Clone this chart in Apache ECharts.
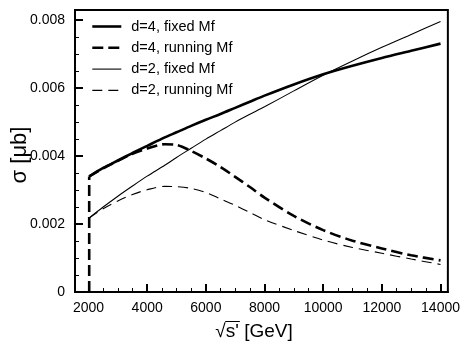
<!DOCTYPE html>
<html>
<head>
<meta charset="utf-8">
<script src="https://cdn.jsdelivr.net/npm/echarts@6/dist/echarts.min.js"></script>
<style>
html,body{margin:0;padding:0;background:#fff;}
#chart{width:463px;height:350px;}
</style>
</head>
<body>
<div id="chart"></div>
<script>
// ---- data (σ in μb, √s in GeV) ----
const seriesNames = ['d=4, fixed Mf', 'd=4, running Mf', 'd=2, fixed Mf', 'd=2, running Mf'];
const xTickLabels = [2000, 4000, 6000, 8000, 10000, 12000, 14000];
const yTickLabels = [0, 0.002, 0.004, 0.006, 0.008];

const sqrtS = [2024, 2500, 3000, 3500, 4000, 4600, 5000, 5500, 6000, 6500, 7000, 7500, 8000, 9000, 10000, 11000, 12000, 13000, 14000];
const d4Fixed = [0.00340, 0.00365, 0.00387, 0.00409, 0.00430, 0.00455, 0.00470, 0.00489, 0.00507, 0.00524, 0.00542, 0.00560, 0.00578, 0.00611, 0.00641, 0.00666, 0.00689, 0.00710, 0.00731];
const d4Running = [0.00340, 0.00364, 0.00386, 0.00407, 0.00422, 0.00435, 0.00433, 0.00415, 0.00393, 0.00368, 0.00339, 0.00309, 0.00278, 0.00224, 0.00182, 0.00151, 0.00128, 0.00108, 0.00093];
const d2Fixed = [0.00218, 0.00250, 0.00282, 0.00312, 0.00341, 0.00373, 0.00396, 0.00423, 0.00450, 0.00475, 0.00500, 0.00523, 0.00545, 0.00592, 0.00638, 0.00680, 0.00720, 0.00758, 0.00796];
const d2Running = [0.00218, 0.00245, 0.00268, 0.00287, 0.00301, 0.00311, 0.00310, 0.00305, 0.00293, 0.00274, 0.00255, 0.00234, 0.00213, 0.00181, 0.00153, 0.00131, 0.00114, 0.00097, 0.00081];
const thresholdX = 2024;
const thresholdY = [0, 0.00340];

const pair = (xs, ys) => xs.map((x, i) => [x, ys[i]]);
const font = 'Liberation Sans, Arial, Helvetica, sans-serif';

const minorX = [];
for (let v = 2000; v <= 14000; v += 500) if (v % 2000 !== 0) minorX.push(v);
const minorY = [];
for (let k = 1; k <= 16; k++) if (k % 4 !== 0) minorY.push(+(k * 0.0005).toFixed(4));

const chart = echarts.init(document.getElementById('chart'), null, {renderer: 'canvas'});

// measure text for axis-name overline
const nameFont = '19px ' + font;
const ctx = document.createElement('canvas').getContext('2d');
ctx.font = nameFont;
const nameTxt = '\u221As\' [GeV]';
const wAll = ctx.measureText(nameTxt).width;
const wRoot = ctx.measureText('\u221A').width;
const wRootS = ctx.measureText('\u221As\'').width;
const nameCx = 254, nameCy = 332;
const nameX0 = nameCx - wAll / 2;

const thick = 2.6, thin = 1.1;
const widths = [thick, thick, thin, thin];
const dashes = ['solid', [11, 5], 'solid', [10, 6]];

chart.setOption({
  animation: false,
  backgroundColor: '#fff',
  grid: {left: 75, right: 14, top: 10, bottom: 58, show: true, borderColor: '#000', borderWidth: 2, backgroundColor: 'transparent'},
  legend: {
    orient: 'vertical', left: 86, top: 14, itemWidth: 29, itemHeight: 14, itemGap: 6.3,
    data: seriesNames.map((n, i) => ({name: n, lineStyle: {width: widths[i], type: dashes[i], color: '#000'}})),
    itemStyle: {opacity: 0},
    textStyle: {fontSize: 14.5, fontFamily: font, color: '#000', padding: [0, 0, 0, 5]}
  },
  xAxis: [{
    type: 'value', min: 1540, max: 14250,
    axisLine: {show: true, lineStyle: {color: '#000', width: 2}},
    axisTick: {show: true, inside: true, length: 8, lineStyle: {color: '#000', width: 2}, customValues: xTickLabels},
    axisLabel: {customValues: xTickLabels, fontSize: 14, fontFamily: font, color: '#000', margin: 9,
      formatter: v => String(v)},
    splitLine: {show: false}
  }, {
    type: 'value', min: 1540, max: 14250, position: 'bottom',
    axisLine: {show: false},
    axisTick: {show: true, inside: true, length: 4, lineStyle: {color: '#000', width: 1}, customValues: minorX},
    axisLabel: {show: false, customValues: minorX},
    splitLine: {show: false}
  }],
  yAxis: [{
    type: 'value', min: 0, max: 0.0083,
    axisLine: {show: true, lineStyle: {color: '#000', width: 2}},
    axisTick: {show: true, inside: true, length: 8, lineStyle: {color: '#000', width: 2}, customValues: yTickLabels},
    axisLabel: {customValues: yTickLabels, fontSize: 14, fontFamily: font, color: '#000', margin: 10,
      formatter: v => v === 0 ? '0' : v.toFixed(3)},
    splitLine: {show: false}
  }, {
    type: 'value', min: 0, max: 0.0083, position: 'left',
    axisLine: {show: false},
    axisTick: {show: true, inside: true, length: 4, lineStyle: {color: '#000', width: 1}, customValues: minorY},
    axisLabel: {show: false, customValues: minorY},
    splitLine: {show: false}
  }],
  series: [
    {name: seriesNames[0], type: 'line', data: pair(sqrtS, d4Fixed), showSymbol: false, symbol: 'none', smooth: 0.3,
      lineStyle: {color: '#000', width: widths[0], type: dashes[0]}, itemStyle: {color: '#000'}},
    {name: seriesNames[1], type: 'line', data: pair(sqrtS, d4Running), showSymbol: false, symbol: 'none', smooth: 0.3,
      lineStyle: {color: '#000', width: widths[1], type: dashes[1]}, itemStyle: {color: '#000'}},
    {name: seriesNames[2], type: 'line', data: pair(sqrtS, d2Fixed), showSymbol: false, symbol: 'none', smooth: 0.3,
      lineStyle: {color: '#000', width: widths[2], type: dashes[2]}, itemStyle: {color: '#000'}},
    {name: seriesNames[3], type: 'line', data: pair(sqrtS, d2Running), showSymbol: false, symbol: 'none', smooth: 0.3,
      lineStyle: {color: '#000', width: widths[3], type: dashes[3]}, itemStyle: {color: '#000'}},
    {name: 'threshold', type: 'line', data: thresholdY.map(y => [thresholdX, y]), showSymbol: false, symbol: 'none',
      lineStyle: {color: '#000', width: thick, type: [11, 5]}, itemStyle: {color: '#000'}}
  ],
  graphic: [
    {type: 'text', x: 20, y: 155, rotation: Math.PI / 2,
      style: {text: 'σ [μb]', font: '22px ' + font, fill: '#000', textAlign: 'center', textVerticalAlign: 'middle'}},
    {type: 'text', x: nameX0, y: nameCy,
      style: {text: nameTxt, font: nameFont, fill: '#000', textAlign: 'left', textVerticalAlign: 'middle'}},
    {type: 'line', shape: {x1: nameX0 + wRoot - 0.5, y1: nameCy - 10.5, x2: nameX0 + wRootS + 1, y2: nameCy - 10.5},
      style: {stroke: '#000', lineWidth: 1}}
  ]
});
</script>
</body>
</html>
